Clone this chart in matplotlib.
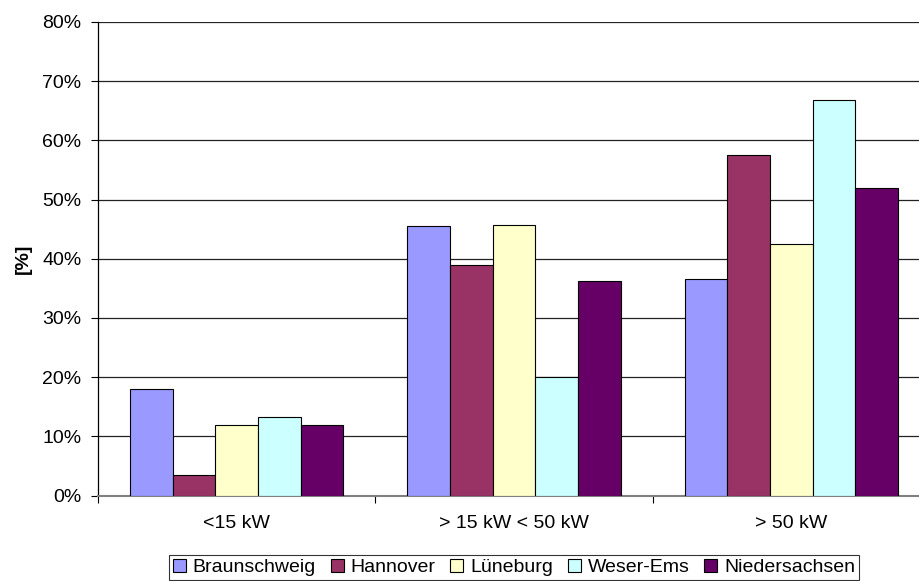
import matplotlib
matplotlib.use('Agg')
import matplotlib.pyplot as plt
from matplotlib.patches import Patch
from matplotlib.ticker import FuncFormatter

plt.rcParams['font.family'] = ['Liberation Sans', 'DejaVu Sans']

categories = ['<15 kW', '> 15 kW < 50 kW', '> 50 kW']
regions = ['Braunschweig', 'Hannover', 'Lüneburg', 'Weser-Ems', 'Niedersachsen']
braunschweig = [18.0, 45.6, 36.6]
hannover = [3.5, 38.9, 57.5]
lueneburg = [11.9, 45.7, 42.5]
weser_ems = [13.3, 20.0, 66.8]
niedersachsen = [11.9, 36.2, 52.0]
colors = ['#9999FF', '#993366', '#FFFFCC', '#CCFFFF', '#660066']

series = [braunschweig, hannover, lueneburg, weser_ems, niedersachsen]

W, H = 919, 581
fs = 14
fig = plt.figure(figsize=(W / 100, H / 100), dpi=100)
ax = fig.add_axes([98 / W, (H - 495.5) / H, 832 / W, 473.5 / H])

bar_w = 1 / 6.5
x = list(range(len(categories)))
for i, (vals, col) in enumerate(zip(series, colors)):
    pos = [xi + (i - 2) * bar_w for xi in x]
    ax.bar(pos, vals, width=bar_w, color=col, edgecolor='black',
           linewidth=0.8, zorder=3)

ax.set_xlim(-0.5, 2.5)
ax.set_ylim(0, 80)
ax.set_yticks(range(0, 81, 10))
ax.yaxis.set_major_formatter(FuncFormatter(lambda v, p: '%d%%' % v))
ax.grid(axis='y', color='#222222', linewidth=0.9, zorder=0)

ax.set_xticks(x)
ax.set_xticklabels(categories)
ax.set_xticks([-0.5, 0.5, 1.5, 2.5], minor=True)
ax.tick_params(axis='x', which='major', length=0, pad=14, labelsize=fs)
ax.tick_params(axis='x', which='minor', length=5, width=0.8, color='black')
ax.tick_params(axis='y', length=5, width=0.8, labelsize=fs, pad=7)

for s in ['top', 'right']:
    ax.spines[s].set_visible(False)
ax.spines['left'].set_color('black')
ax.spines['left'].set_linewidth(0.9)
ax.spines['bottom'].set_color('#808080')
ax.spines['bottom'].set_linewidth(1.5)

ax.set_ylabel('[%]', fontsize=fs, fontweight='bold', labelpad=7)

handles = [Patch(facecolor=c, edgecolor='black', linewidth=0.8) for c in colors]
leg = fig.legend(handles, regions, loc='upper center', ncol=5,
                 bbox_to_anchor=(514 / W, 1 - 555 / H), fontsize=fs,
                 frameon=True, fancybox=False, edgecolor='black',
                 handlelength=0.67, handleheight=0.67, handletextpad=0.36,
                 columnspacing=0.75, borderpad=0.2, borderaxespad=0)
leg.get_frame().set_linewidth(0.8)

fig.savefig('out.png', dpi=100)
